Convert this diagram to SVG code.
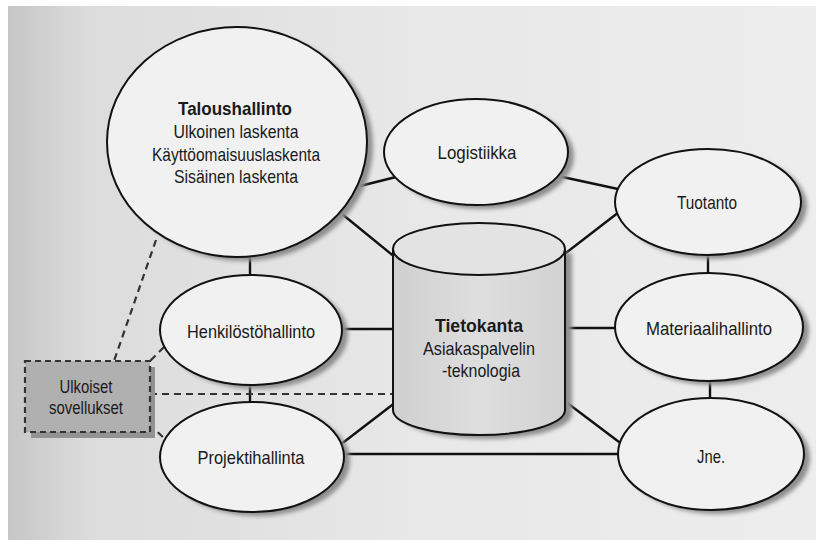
<svg xmlns="http://www.w3.org/2000/svg" width="822" height="540" viewBox="0 0 822 540">
<defs>
<linearGradient id="page" x1="0" y1="0" x2="1" y2="0">
<stop offset="0" stop-color="#c6c6c6"/>
<stop offset="0.1" stop-color="#dcdcdc"/>
<stop offset="0.5" stop-color="#e8e8e8"/>
<stop offset="1" stop-color="#ededed"/>
</linearGradient>
<linearGradient id="cyl" x1="0" y1="0" x2="1" y2="0">
<stop offset="0" stop-color="#cfcfcf"/>
<stop offset="0.5" stop-color="#dedede"/>
<stop offset="1" stop-color="#d2d2d2"/>
</linearGradient>
<filter id="blur" x="-10%" y="-10%" width="120%" height="120%">
<feGaussianBlur stdDeviation="2"/>
</filter>
</defs>
<style>
.bg{fill:url(#page)}
.shadow{fill:#8e8e8e;filter:url(#blur)}
.node{fill:#f1f1f1;stroke:#111;stroke-width:2}
.t{font-family:"Liberation Sans Narrow","Liberation Sans",Arial,sans-serif;font-size:19px;fill:#1a1a1a;text-anchor:middle}
.b{font-weight:bold}
.line{stroke:#111;stroke-width:2.4;fill:none}
.dash{stroke:#333;stroke-width:2.2;fill:none;stroke-dasharray:7 5}
</style>
<rect x="0" y="0" width="822" height="540" fill="#ffffff"/>
<rect class="bg" x="8" y="6" width="808" height="534"/>

<g id="connectors">
<line class="line" x1="360" y1="186" x2="396" y2="177"/>
<line class="line" x1="342" y1="214" x2="396" y2="258"/>
<line class="line" x1="250" y1="254" x2="250" y2="277"/>
<line class="line" x1="558" y1="176" x2="618" y2="189"/>
<line class="line" x1="562" y1="256" x2="619" y2="212"/>
<line class="line" x1="341" y1="329" x2="395" y2="329"/>
<line class="line" x1="563" y1="328" x2="617" y2="328"/>
<line class="line" x1="250" y1="383" x2="250" y2="405"/>
<line class="line" x1="340" y1="445" x2="396" y2="402"/>
<line class="line" x1="341" y1="454" x2="621" y2="454"/>
<line class="line" x1="562" y1="399" x2="623" y2="445"/>
<line class="line" x1="708" y1="253" x2="708" y2="275"/>
<line class="line" x1="710" y1="380" x2="710" y2="400"/>
<line class="dash" x1="156" y1="240" x2="114" y2="361"/>
<line class="dash" x1="164" y1="347" x2="150" y2="361"/>
<line class="dash" x1="150" y1="394" x2="393" y2="394"/>
<line class="dash" x1="149" y1="424" x2="165" y2="439"/>
</g>

<g id="taloushallinto">
<ellipse class="shadow" cx="243" cy="146" rx="130" ry="115"/>
<ellipse class="node" cx="237" cy="142" rx="130" ry="115"/>
<text class="t b" x="235" y="115" textLength="114" lengthAdjust="spacingAndGlyphs">Taloushallinto</text>
<text class="t" x="236" y="138" textLength="125" lengthAdjust="spacingAndGlyphs">Ulkoinen laskenta</text>
<text class="t" x="236" y="161" textLength="168" lengthAdjust="spacingAndGlyphs">Käyttöomaisuuslaskenta</text>
<text class="t" x="236" y="183" textLength="124" lengthAdjust="spacingAndGlyphs">Sisäinen laskenta</text>
</g>

<g id="logistiikka">
<ellipse class="shadow" cx="482" cy="156" rx="92" ry="53"/>
<ellipse class="node" cx="476" cy="152" rx="92" ry="53"/>
<text class="t" x="477" y="159" textLength="79" lengthAdjust="spacingAndGlyphs">Logistiikka</text>
</g>

<g id="tuotanto">
<ellipse class="shadow" cx="714" cy="206" rx="93" ry="53"/>
<ellipse class="node" cx="708" cy="202" rx="93" ry="53"/>
<text class="t" x="707" y="209" textLength="60" lengthAdjust="spacingAndGlyphs">Tuotanto</text>
</g>

<g id="materiaalihallinto">
<ellipse class="shadow" cx="715" cy="331" rx="94" ry="54"/>
<ellipse class="node" cx="709" cy="327" rx="94" ry="54"/>
<text class="t" x="709" y="335" textLength="126" lengthAdjust="spacingAndGlyphs">Materiaalihallinto</text>
</g>

<g id="jne">
<ellipse class="shadow" cx="717" cy="458" rx="93" ry="56"/>
<ellipse class="node" cx="711" cy="454" rx="93" ry="56"/>
<text class="t" x="711" y="463" textLength="28" lengthAdjust="spacingAndGlyphs">Jne.</text>
</g>

<g id="henkilostohallinto">
<ellipse class="shadow" cx="257" cy="334" rx="91" ry="55"/>
<ellipse class="node" cx="251" cy="330" rx="91" ry="55"/>
<text class="t" x="251" y="338" textLength="128" lengthAdjust="spacingAndGlyphs">Henkilöstöhallinto</text>
</g>

<g id="projektihallinta">
<ellipse class="shadow" cx="258" cy="461" rx="92" ry="55"/>
<ellipse class="node" cx="252" cy="457" rx="92" ry="55"/>
<text class="t" x="251" y="464" textLength="107" lengthAdjust="spacingAndGlyphs">Projektihallinta</text>
</g>

<g id="tietokanta">
<path class="shadow" d="M400 253 L572 253 L572 414 A86 25 0 0 1 400 414 Z"/>
<path d="M393 249 L393 410 A86 25 0 0 0 565 410 L565 249" fill="url(#cyl)" stroke="#111" stroke-width="2"/>
<ellipse cx="479" cy="249" rx="86" ry="26" fill="#e3e3e3" stroke="#111" stroke-width="2"/>
<text class="t b" x="479" y="332" textLength="88" lengthAdjust="spacingAndGlyphs">Tietokanta</text>
<text class="t" x="479" y="355" textLength="112" lengthAdjust="spacingAndGlyphs">Asiakaspalvelin</text>
<text class="t" x="481" y="377" textLength="78" lengthAdjust="spacingAndGlyphs">-teknologia</text>
</g>

<g id="ulkoiset">
<rect x="31" y="367" width="124" height="71" fill="#939393"/>
<rect x="25" y="361" width="125" height="71" fill="#b0b0b0" stroke="#333" stroke-width="2.2" stroke-dasharray="6 4"/>
<text class="t" x="86" y="393" textLength="53" lengthAdjust="spacingAndGlyphs">Ulkoiset</text>
<text class="t" x="86" y="414" textLength="74" lengthAdjust="spacingAndGlyphs">sovellukset</text>
</g>
</svg>
